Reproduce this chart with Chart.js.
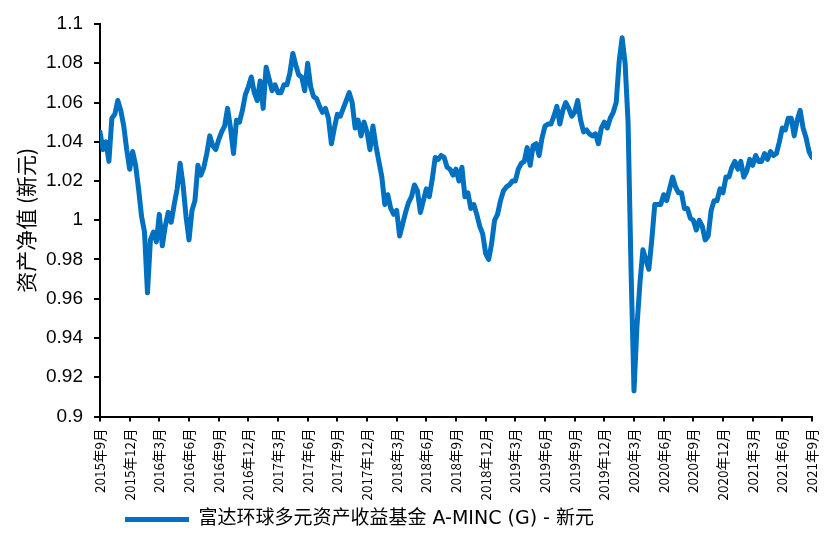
<!DOCTYPE html>
<html lang="zh">
<head>
  <meta charset="UTF-8" />
  <title>资产净值</title>
  <script src="https://cdn.jsdelivr.net/npm/chart.js"></script>
  <style>
    html, body { margin: 0; padding: 0; background: #fff; }
    #wrap { width: 836px; height: 536px; }
  </style>
</head>
<body>
<div id="wrap"><canvas id="navChart" width="836" height="536"></canvas></div>
<script>
// quarterly tick labels (one tick every 10 points)
const quarterLabels = [
  '2015年9月', '2015年12月', '2016年3月', '2016年6月', '2016年9月', '2016年12月',
  '2017年3月', '2017年6月', '2017年9月', '2017年12月', '2018年3月', '2018年6月',
  '2018年9月', '2018年12月', '2019年3月', '2019年6月', '2019年9月', '2019年12月',
  '2020年3月', '2020年6月', '2020年9月', '2020年12月', '2021年3月', '2021年6月', '2021年9月'
];
const pointsPerQuarter = 10;

// NAV, 10 readings per quarter
const navValues = [
  1.045, 1.036, 1.040, 1.030, 1.052, 1.054, 1.061, 1.056, 1.048, 1.036, // 2015 Q4
  1.026, 1.035, 1.028, 1.016, 1.002, 0.994, 0.963, 0.990, 0.994, 0.989,
  1.003, 0.987, 0.997, 1.004, 0.999, 1.008, 1.016, 1.029, 1.018, 1.002,
  0.990, 1.005, 1.010, 1.028, 1.023, 1.027, 1.034, 1.043, 1.038, 1.036,
  1.041, 1.045, 1.048, 1.057, 1.047, 1.034, 1.051, 1.050, 1.056, 1.064, // 2016 Q4
  1.068, 1.073, 1.065, 1.061, 1.071, 1.057, 1.078, 1.072, 1.066, 1.069,
  1.065, 1.065, 1.069, 1.069, 1.075, 1.085, 1.079, 1.074, 1.073, 1.066,
  1.080, 1.068, 1.063, 1.062, 1.058, 1.055, 1.057, 1.052, 1.039, 1.047,
  1.054, 1.053, 1.057, 1.061, 1.065, 1.060, 1.047, 1.051, 1.043, 1.050, // 2017 Q4
  1.045, 1.036, 1.048, 1.038, 1.030, 1.022, 1.008, 1.013, 1.006, 1.003,
  1.005, 0.992, 0.998, 1.004, 1.009, 1.012, 1.018, 1.015, 1.004, 1.010,
  1.016, 1.012, 1.021, 1.032, 1.031, 1.033, 1.032, 1.027, 1.026, 1.023,
  1.026, 1.020, 1.027, 1.012, 1.014, 1.006, 1.008, 1.003, 0.997, 0.993, // 2018 Q4
  0.983, 0.980, 0.988, 1.000, 1.003, 1.010, 1.015, 1.017, 1.018, 1.020,
  1.020, 1.026, 1.029, 1.030, 1.037, 1.028, 1.038, 1.039, 1.033, 1.042,
  1.048, 1.049, 1.049, 1.053, 1.058, 1.049, 1.056, 1.060, 1.057, 1.053,
  1.055, 1.061, 1.051, 1.045, 1.046, 1.044, 1.043, 1.044, 1.039, 1.047, // 2019 Q4
  1.050, 1.047, 1.052, 1.055, 1.060, 1.081, 1.093, 1.080, 1.050, 0.975,
  0.913, 0.946, 0.968, 0.985, 0.980, 0.975, 0.990, 1.008, 1.008, 1.008,
  1.013, 1.010, 1.016, 1.022, 1.017, 1.014, 1.014, 1.006, 1.006, 1.001,
  1.000, 0.995, 1.000, 0.997, 0.990, 0.992, 1.005, 1.010, 1.010, 1.016, // 2020 Q4
  1.014, 1.022, 1.022, 1.027, 1.030, 1.026, 1.030, 1.022, 1.025, 1.031,
  1.028, 1.033, 1.030, 1.030, 1.034, 1.031, 1.035, 1.033, 1.034, 1.040,
  1.047, 1.046, 1.052, 1.052, 1.043, 1.051, 1.056, 1.047, 1.042, 1.035,
  1.032
];

const seriesName = '富达环球多元资产收益基金 A-MINC (G) - 新元';
const lineColor = '#0070C0';

Chart.defaults.font.family = "'Noto Sans CJK SC', 'Noto Sans', sans-serif";
Chart.defaults.color = '#000';

// move the legend to where the original puts it
const legendOffset = {
  id: 'legendOffset',
  afterLayout(chart) {
    const lg = chart.legend;
    const w = lg.right - lg.left;
    lg.left = 119;
    lg.right = 119 + w;
    lg.top += 3;
    lg.bottom += 3;
  }
};

new Chart(document.getElementById('navChart').getContext('2d'), {
  type: 'line',
  data: {
    datasets: [{
      label: seriesName,
      data: navValues.map((v, i) => ({ x: i, y: v })),
      borderColor: lineColor,
      backgroundColor: lineColor,
      borderWidth: 5,
      borderJoinStyle: 'round',
      borderCapStyle: 'round',
      pointRadius: 0,
      tension: 0,
      fill: false
    }]
  },
  options: {
    responsive: false,
    animation: false,
    layout: { padding: { top: 24, right: 24, bottom: 0, left: 0 } },
    plugins: {
      tooltip: { enabled: false },
      legend: {
        position: 'bottom',
        align: 'start',
        labels: {
          usePointStyle: true,
          pointStyle: 'line',
          pointStyleWidth: 64,
          padding: 6,
          color: '#000',
          font: { family: "'DejaVu Sans', 'Noto Sans CJK SC', sans-serif", size: 19 }
        }
      }
    },
    scales: {
      x: {
        type: 'linear',
        min: 0,
        max: navValues.length - 1,
        afterFit: s => { s.height = 84.5; },
        border: { display: true, color: '#000', width: 2 },
        grid: { drawOnChartArea: false, drawTicks: true, tickLength: 5, color: '#000', lineWidth: 2 },
        ticks: {
          stepSize: pointsPerQuarter,
          autoSkip: false,
          minRotation: 90,
          maxRotation: 90,
          padding: 7,
          color: '#000',
          font: { size: 13.5 },
          callback: v => quarterLabels[Math.round(v / pointsPerQuarter)]
        }
      },
      y: {
        min: 0.9,
        max: 1.1,
        afterFit: s => { s.width = 100; },
        border: { display: true, color: '#000', width: 2 },
        grid: { drawOnChartArea: false, drawTicks: true, tickLength: 6, color: '#000', lineWidth: 2 },
        ticks: {
          stepSize: 0.02,
          padding: 11,
          color: '#000',
          font: { family: "'Liberation Sans', Arial, sans-serif", size: 19 },
          callback: v => String(parseFloat(v.toFixed(2)))
        },
        title: {
          display: true,
          text: '资产净值 (新元)',
          color: '#000',
          padding: { top: 13, bottom: 0 },
          font: { size: 21 }
        }
      }
    }
  },
  plugins: [legendOffset]
});
</script>
</body>
</html>
